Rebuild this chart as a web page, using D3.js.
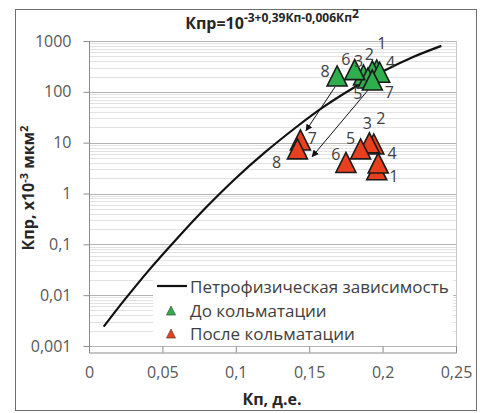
<!DOCTYPE html>
<html>
<head>
<meta charset="utf-8">
<script src="https://cdn.jsdelivr.net/npm/d3@7"></script>
<style>
  body { margin: 0; background: #fff; }
  svg text { font-family: "Open Sans", "Noto Sans", sans-serif; }
</style>
</head>
<body>
<div id="chart"></div>
<script>
// Curve: petrophysical dependency
const curveKp  = [0.01, 0.02, 0.03, 0.04, 0.06, 0.08, 0.10, 0.12, 0.14, 0.16, 0.18, 0.20, 0.22, 0.24];
const curveKpr = [0.0024, 0.0057, 0.013, 0.029, 0.13, 0.54, 2.0, 6.5, 19, 51, 119, 251, 474, 802];

// Samples, numbered 1..8
const sampleIds = ["1", "2", "3", "4", "5", "6", "7", "8"];
const beforeKp  = [0.196, 0.193, 0.187, 0.198, 0.190, 0.181, 0.193, 0.169];
const beforeKpr = [257, 246, 205, 232, 179, 261, 163, 196];
const afterKp   = [0.196, 0.194, 0.191, 0.197, 0.185, 0.175, 0.144, 0.142];
const afterKpr  = [2.8, 9.0, 9.5, 3.8, 7.2, 3.9, 10.8, 7.2];

// Arrows (from → to, in axis units)
const arrowFrom = [[0.1676, 125], [0.1914, 120]];
const arrowTo   = [[0.1478, 17.2], [0.152, 5.3]];

const xTicks = [0, 0.05, 0.1, 0.15, 0.2, 0.25];
const yTicks = [0.001, 0.01, 0.1, 1, 10, 100, 1000];
const legendLabels = ["Петрофизическая зависимость", "До кольматации", "После кольматации"];

const W = 480, H = 413;
const svg = d3.select("#chart").append("svg")
    .attr("width", W)
    .attr("height", H);

// outer frame
svg.append("rect")
    .attr("x", 15.5).attr("y", 9.5)
    .attr("width", 461).attr("height", 401)
    .attr("fill", "#fff")
    .attr("stroke", "#6e6e6e");

const x = d3.scaleLinear().domain([0, 0.25]).range([89, 456]);
const y = d3.scaleLog().domain([0.001, 1000]).range([346, 41]);
const axisY = 352;

// minor gridlines
const minor = [];
yTicks.slice(0, -1).forEach(t => {
  for (let m = 2; m <= 9; m++) minor.push(t * m);
});
svg.append("g").selectAll("line")
  .data(minor)
  .join("line")
    .attr("x1", x(0)).attr("x2", x(0.25))
    .attr("y1", d => Math.round(y(d)) + 0.5)
    .attr("y2", d => Math.round(y(d)) + 0.5)
    .attr("stroke", "#e2e2e2");

// major gridlines
svg.append("g").selectAll("line")
  .data(yTicks)
  .join("line")
    .attr("x1", x(0)).attr("x2", x(0.25))
    .attr("y1", d => Math.round(y(d)) + 0.5)
    .attr("y2", d => Math.round(y(d)) + 0.5)
    .attr("stroke", "#b4b4b4");

// plot right border
svg.append("line")
    .attr("x1", x(0.25) + 0.5).attr("x2", x(0.25) + 0.5)
    .attr("y1", y(1000)).attr("y2", axisY)
    .attr("stroke", "#c8c8c8");

const fmt = d => String(d).replace(".", ",");

// Y axis
const yAxis = svg.append("g")
    .attr("transform", `translate(${x(0) + 0.5},0)`)
    .call(d3.axisLeft(y).tickValues(yTicks).tickFormat(fmt).tickSize(6).tickPadding(12));
yAxis.select(".domain").remove();
yAxis.append("line")
    .attr("y1", y(1000)).attr("y2", axisY)
    .attr("stroke", "#8c8c8c");
yAxis.selectAll(".tick line").attr("stroke", "#8c8c8c");
yAxis.selectAll(".tick text")
    .attr("fill", "#595959")
    .style("font-size", "16px");

// X axis
const xAxis = svg.append("g")
    .attr("transform", `translate(0,${axisY + 0.5})`)
    .call(d3.axisBottom(x).tickValues(xTicks).tickFormat(fmt).tickSize(-6).tickPadding(14));
xAxis.select(".domain").attr("stroke", "#8c8c8c");
xAxis.selectAll(".tick line").attr("stroke", "#8c8c8c");
xAxis.selectAll(".tick text")
    .attr("fill", "#595959")
    .style("font-size", "16px");

// Axis titles
svg.append("text")
    .attr("x", 272).attr("y", 405)
    .attr("text-anchor", "middle")
    .style("font-size", "16px").style("font-weight", "bold")
    .attr("fill", "#262626")
    .text("Кп, д.е.");

const yt = svg.append("text")
    .attr("transform", "translate(34,188) rotate(-90)")
    .attr("text-anchor", "middle")
    .style("font-size", "16px").style("font-weight", "bold")
    .attr("fill", "#262626");
yt.append("tspan").text("Кпр, x10");
yt.append("tspan").attr("dy", -6).style("font-size", "11px").text("-3");
yt.append("tspan").attr("dy", 6).text(" мкм");
yt.append("tspan").attr("dy", -6).style("font-size", "11px").text("2");

// Title
const title = svg.append("text")
    .attr("x", 272).attr("y", 29)
    .attr("text-anchor", "middle")
    .style("font-weight", "bold")
    .attr("fill", "#262626");
title.append("tspan").style("font-size", "16px").text("Кпр=10");
title.append("tspan").attr("dy", -7).style("font-size", "12px").text("-3+0,39Кп-0,006Кп");
title.append("tspan").attr("dy", -4).style("font-size", "12px").text("2");

// Curve
const curveData = curveKp.map((d, i) => [d, curveKpr[i]]);
svg.append("path")
    .datum(curveData)
    .attr("fill", "none")
    .attr("stroke", "#111")
    .attr("stroke-width", 2.2)
    .attr("d", d3.line().x(d => x(d[0])).y(d => y(d[1])).curve(d3.curveMonotoneX));

// Arrows
svg.append("defs").append("marker")
    .attr("id", "arrow")
    .attr("viewBox", "0 0 10 10")
    .attr("refX", 9).attr("refY", 5)
    .attr("markerWidth", 7).attr("markerHeight", 7)
    .attr("orient", "auto")
  .append("path")
    .attr("d", "M0,0 L10,5 L0,10 z")
    .attr("fill", "#111");

svg.append("g").selectAll("line")
  .data(arrowFrom)
  .join("line")
    .attr("x1", d => x(d[0])).attr("y1", d => y(d[1]))
    .attr("x2", (d, i) => x(arrowTo[i][0])).attr("y2", (d, i) => y(arrowTo[i][1]))
    .attr("stroke", "#111")
    .attr("stroke-width", 1)
    .attr("marker-end", "url(#arrow)");

// Triangles
const tri = s => `M0,${-s * 0.55} L${s * 0.5},${s * 0.45} L${-s * 0.5},${s * 0.45} Z`;
const green = "#2fae4e", red = "#e8401e";

// label offsets (px) for each sample
const beforeOff = [[5, -28], [-3, -18], [-5, -15], [11, -11], [-10, 14], [-9, -12], [17, 11], [-12, -6]];
const afterOff  = [[17, 5], [7, -27], [-2, -21], [14, -11], [-10, -12], [-10, -9], [12, -3], [-21, 12]];

function drawSet(kp, kpr, fill, off) {
  const g = svg.append("g");
  const pts = sampleIds.map((id, i) => ({ id, kp: kp[i], kpr: kpr[i], off: off[i] }));
  g.selectAll("path")
    .data(pts)
    .join("path")
      .attr("transform", d => `translate(${x(d.kp)},${y(d.kpr)})`)
      .attr("d", tri(20))
      .attr("fill", fill)
      .attr("stroke", "#1a1a1a")
      .attr("stroke-width", 1.6)
      .attr("stroke-linejoin", "miter");
  g.selectAll("text")
    .data(pts)
    .join("text")
      .attr("x", d => x(d.kp) + d.off[0])
      .attr("y", d => y(d.kpr) + d.off[1])
      .attr("text-anchor", "middle")
      .attr("dominant-baseline", "central")
      .attr("fill", "#404040")
      .style("font-size", "16px")
      .text(d => d.id);
}
drawSet(beforeKp, beforeKpr, green, beforeOff);
drawSet(afterKp, afterKpr, red, afterOff);

// Legend
const lg = svg.append("g");
lg.append("rect")
    .attr("x", 153).attr("y", 273)
    .attr("width", 300).attr("height", 72)
    .attr("fill", "#fff");
const rowsY = [286, 310, 333];
lg.append("line")
    .attr("x1", 157).attr("x2", 187)
    .attr("y1", rowsY[0]).attr("y2", rowsY[0])
    .attr("stroke", "#111").attr("stroke-width", 2.2);
[green, red].forEach((c, i) => {
  lg.append("path")
      .attr("transform", `translate(171,${rowsY[i + 1] + 1})`)
      .attr("d", tri(9))
      .attr("fill", c)
      .attr("stroke", "#333")
      .attr("stroke-width", 0.6);
});
lg.selectAll("text")
  .data(legendLabels)
  .join("text")
    .attr("x", 190)
    .attr("y", (d, i) => rowsY[i])
    .attr("dominant-baseline", "central")
    .attr("fill", "#404040")
    .style("font-size", "17px")
    .text(d => d);
</script>
</body>
</html>
